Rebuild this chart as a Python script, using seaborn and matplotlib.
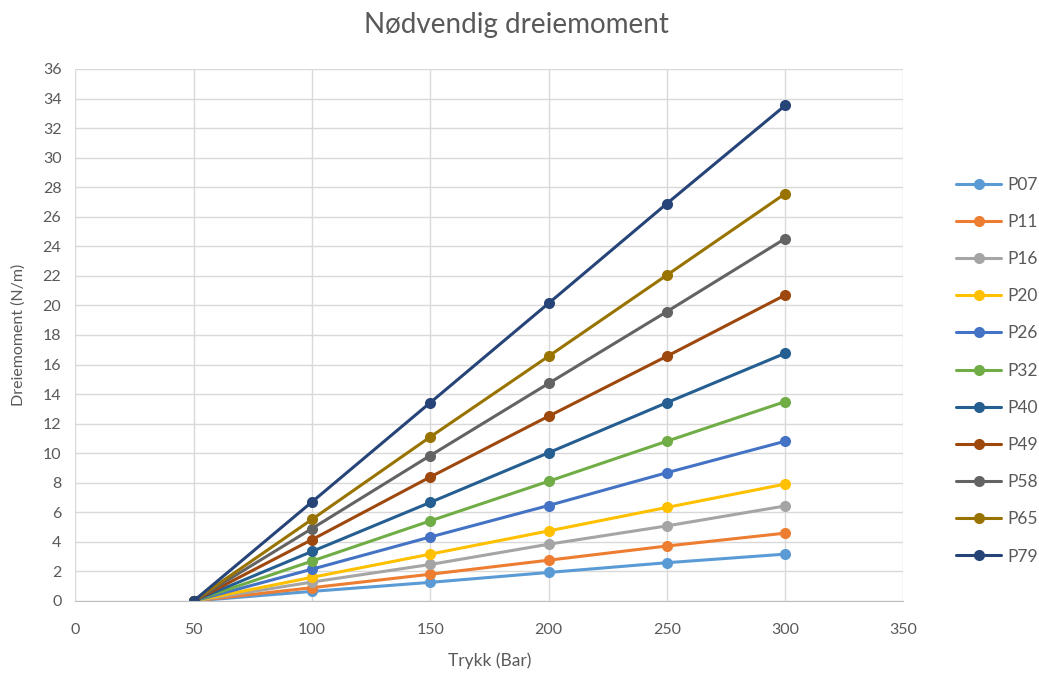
import pandas as pd
import seaborn as sns
import matplotlib.pyplot as plt

# Trykk (bar) og avlest dreiemoment for hver pumpe
trykk = [50, 100, 150, 200, 250, 300]
serier = ["P07", "P11", "P16", "P20", "P26", "P32", "P40", "P49", "P58", "P65", "P79"]

p07 = [0, 0.65, 1.26, 1.93, 2.59, 3.17]
p11 = [0, 0.90, 1.81, 2.76, 3.72, 4.59]
p16 = [0, 1.28, 2.47, 3.84, 5.08, 6.43]
p20 = [0, 1.60, 3.17, 4.74, 6.33, 7.91]
p26 = [0, 2.15, 4.33, 6.46, 8.68, 10.81]
p32 = [0, 2.70, 5.42, 8.10, 10.81, 13.49]
p40 = [0, 3.35, 6.67, 10.03, 13.42, 16.76]
p49 = [0, 4.15, 8.39, 12.50, 16.56, 20.70]
p58 = [0, 4.90, 9.84, 14.72, 19.58, 24.52]
p65 = [0, 5.52, 11.10, 16.56, 22.05, 27.56]
p79 = [0, 6.70, 13.42, 20.14, 26.89, 33.53]

farger = ["#5B9BD5", "#ED7D31", "#A5A5A5", "#FFC000", "#4472C4", "#70AD47",
          "#255E91", "#9E480E", "#636363", "#997300", "#264478"]

verdier = [p07, p11, p16, p20, p26, p32, p40, p49, p58, p65, p79]
rows = []
for navn, ys in zip(serier, verdier):
    for x, y in zip(trykk, ys):
        rows.append({"Trykk": x, "Dreiemoment": y, "Pumpe": navn})
df = pd.DataFrame(rows)

sns.set_style("white")
plt.rcParams['font.family'] = ['Lato', 'DejaVu Sans']
tekst = "#595959"

fig = plt.figure(figsize=(10.39, 6.73), dpi=100)
ax = fig.add_axes([0.0725, 0.107, 0.797, 0.7905])

sns.lineplot(data=df, x="Trykk", y="Dreiemoment", hue="Pumpe",
             hue_order=serier, palette=farger, marker="o", markersize=8,
             markeredgewidth=0, linewidth=2.2, ax=ax)

ax.set_xlim(0, 350)
ax.set_ylim(0, 36)
ax.set_xticks(range(0, 351, 50))
ax.set_yticks(range(0, 37, 2))
ax.grid(True, color="#D9D9D9", linewidth=1)
ax.set_axisbelow(True)
for s in ["top", "right", "left"]:
    ax.spines[s].set_visible(False)
ax.spines["bottom"].set_color("#BFBFBF")
ax.tick_params(axis="both", length=0, labelsize=11.5, colors=tekst)
ax.tick_params(axis="x", pad=16)
ax.tick_params(axis="y", pad=10)

ax.set_xlabel("Trykk (Bar)", fontsize=12.5, color=tekst, labelpad=11)
ax.set_ylabel("Dreiemoment (N/m)", fontsize=11.5, color=tekst, labelpad=12)
fig.suptitle("Nødvendig dreiemoment", fontsize=20, color=tekst, x=0.497, y=0.982)

leg = ax.legend(loc="center left", bbox_to_anchor=(1.045, 0.433), frameon=False,
                fontsize=12.5, labelspacing=1.22, handlelength=2.6, handletextpad=0.35)
for t in leg.get_texts():
    t.set_color(tekst)

fig.savefig("out.png", dpi=100)
